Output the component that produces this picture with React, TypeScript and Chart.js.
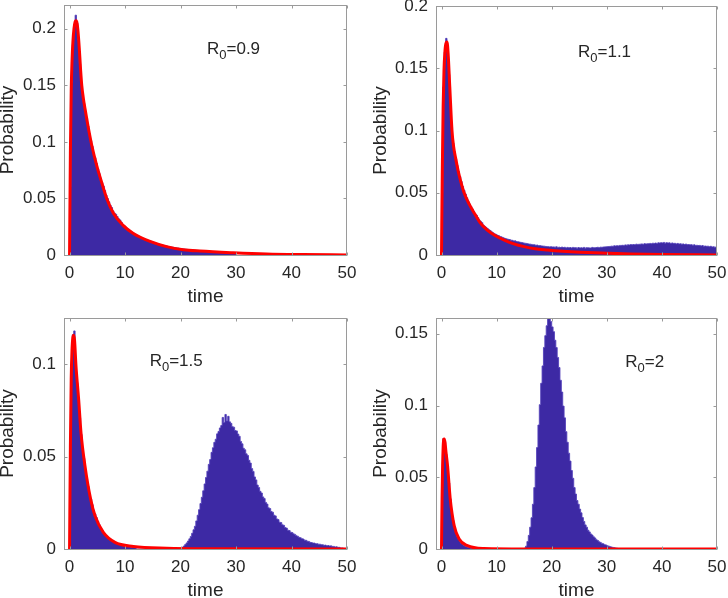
import React, { useEffect, useRef } from "react";
import { Chart, registerables } from "chart.js";

Chart.register(...registerables);

// ---------------- data ----------------
const TIME_TICKS = [0, 10, 20, 30, 40, 50];
const BIN_WIDTH = 0.25;

const R0_VALUES = ["0.9", "1.1", "1.5", "2"];

// y ticks per panel
const TL_Y_TICKS = [0, 0.05, 0.1, 0.15, 0.2];
const TL_Y_LABELS = ["0", "0.05", "0.1", "0.15", "0.2"];
const TR_Y_TICKS = [0, 0.05, 0.1, 0.15, 0.2];
const TR_Y_LABELS = ["0", "0.05", "0.1", "0.15", "0.2"];
const BL_Y_TICKS = [0, 0.05, 0.1];
const BL_Y_LABELS = ["0", "0.05", "0.1"];
const BR_Y_TICKS = [0, 0.05, 0.1, 0.15];
const BR_Y_LABELS = ["0", "0.05", "0.1", "0.15"];

// R0 = 0.9 : histogram (bins of 0.25 starting at t = 0)
const TL_HIST_START = 0;
const TL_HIST = [
  0.060, 0.152, 0.186, 0.202, 0.212, 0.205, 0.190, 0.169,
  0.153, 0.143, 0.134, 0.127, 0.121, 0.114, 0.107, 0.101,
  0.096, 0.090, 0.086, 0.081, 0.076, 0.072, 0.068, 0.064,
  0.061, 0.057, 0.053, 0.050, 0.047, 0.044, 0.042, 0.039,
  0.037, 0.036, 0.034, 0.032, 0.031, 0.029, 0.027, 0.026,
  0.0248, 0.0236, 0.0228, 0.0216, 0.0207, 0.0199, 0.0192, 0.0183,
  0.0176, 0.0170, 0.0162, 0.0156, 0.0151, 0.0146, 0.0139, 0.0134,
  0.0130, 0.0125, 0.0122, 0.0116, 0.0113, 0.0108, 0.0104, 0.0100,
  0.0097, 0.0093, 0.0091, 0.0086, 0.0084, 0.0081, 0.0078, 0.0075,
  0.0073, 0.0070, 0.0069, 0.0066, 0.0064, 0.0062, 0.0061, 0.0058,
  0.0057, 0.0054, 0.0053, 0.0051, 0.0050, 0.0048, 0.0047, 0.0045,
  0.0045, 0.0043, 0.0042, 0.0041, 0.0040, 0.0038, 0.0037, 0.0036,
  0.0035, 0.0034, 0.0034, 0.0033, 0.0032, 0.0031, 0.0030, 0.0029,
  0.0028, 0.0028, 0.0027, 0.0026, 0.0025, 0.0025, 0.0024, 0.0023,
  0.0022, 0.0022, 0.0021, 0.0020, 0.0020, 0.0019, 0.0018, 0.0018,
];
// R0 = 0.9 : fitted curve
const TL_CURVE_T = [0, 0.15, 0.3, 0.45, 0.6, 0.8, 1.0, 1.15, 1.3, 1.5, 1.75, 2.0, 2.2, 2.5, 2.8, 3.4, 4.0, 4.9, 5.8, 6.7, 7.9, 9.7, 11.5, 14.5, 17.5, 20.5, 23.5, 29.5, 35.5, 42, 50];
const TL_CURVE_P = [0, 0.09, 0.145, 0.172, 0.188, 0.2, 0.206, 0.207, 0.206, 0.199, 0.183, 0.163, 0.15, 0.138, 0.129, 0.112, 0.097, 0.079, 0.064, 0.05, 0.037, 0.026, 0.019, 0.012, 0.0074, 0.0047, 0.0035, 0.002, 0.0009, 0.0004, 0.0001];

// R0 = 1.1 : histogram
const TR_HIST_START = 0;
const TR_HIST = [
  0.050, 0.135, 0.163, 0.174, 0.166, 0.145, 0.122, 0.103,
  0.090, 0.083, 0.077, 0.072, 0.067, 0.063, 0.059, 0.055,
  0.052, 0.049, 0.046, 0.043, 0.041, 0.039, 0.037, 0.035,
  0.033, 0.032, 0.030, 0.028, 0.027, 0.026, 0.024, 0.023,
  0.0222, 0.0212, 0.0203, 0.0196, 0.0186, 0.0179, 0.0171, 0.0166,
  0.0160, 0.0156, 0.0149, 0.0146, 0.0141, 0.0136, 0.0133, 0.0129,
  0.0126, 0.0124, 0.0119, 0.0118, 0.0113, 0.0114, 0.0108, 0.0107,
  0.0104, 0.0102, 0.0100, 0.0097, 0.0095, 0.0093, 0.0091, 0.0088,
  0.0087, 0.0085, 0.0083, 0.0082, 0.0078, 0.0080, 0.0075, 0.0076,
  0.0073, 0.0072, 0.0071, 0.0069, 0.0068, 0.0067, 0.0065, 0.0067,
  0.0064, 0.0065, 0.0063, 0.0066, 0.0061, 0.0063, 0.0060, 0.0064,
  0.0060, 0.0062, 0.0057, 0.0061, 0.0059, 0.0060, 0.0056, 0.0061,
  0.0058, 0.0059, 0.0055, 0.0060, 0.0057, 0.0058, 0.0056, 0.0061,
  0.0055, 0.0059, 0.0058, 0.0057, 0.0056, 0.0061, 0.0058, 0.0059,
  0.0060, 0.0062, 0.0059, 0.0063, 0.0062, 0.0064, 0.0065, 0.0066,
  0.0067, 0.0068, 0.0069, 0.0071, 0.0070, 0.0074, 0.0072, 0.0075,
  0.0073, 0.0077, 0.0077, 0.0078, 0.0077, 0.0081, 0.0079, 0.0082,
  0.0080, 0.0084, 0.0082, 0.0084, 0.0083, 0.0087, 0.0085, 0.0086,
  0.0087, 0.0089, 0.0086, 0.0091, 0.0089, 0.0090, 0.0091, 0.0093,
  0.0090, 0.0095, 0.0093, 0.0096, 0.0093, 0.0098, 0.0096, 0.0099,
  0.0097, 0.0101, 0.0095, 0.0099, 0.0096, 0.0098, 0.0092, 0.0097,
  0.0093, 0.0094, 0.0089, 0.0093, 0.0088, 0.0090, 0.0087, 0.0089,
  0.0084, 0.0088, 0.0083, 0.0084, 0.0082, 0.0083, 0.0078, 0.0082,
  0.0077, 0.0078, 0.0076, 0.0077, 0.0072, 0.0076, 0.0071, 0.0072,
  0.0070, 0.0071, 0.0066, 0.0070, 0.0065, 0.0066, 0.0063, 0.0064,
];
const TR_CURVE_T = [0, 0.15, 0.3, 0.45, 0.6, 0.8, 1.0, 1.2, 1.5, 1.9, 2.2, 2.6, 3.0, 3.5, 4.1, 5.0, 5.9, 7.0, 8.3, 9.8, 11.4, 13, 15, 17, 19.2, 22, 25.2, 30, 34.3, 40, 50];
const TR_CURVE_P = [0, 0.07, 0.12, 0.148, 0.162, 0.17, 0.171, 0.162, 0.135, 0.1, 0.087, 0.077, 0.068, 0.059, 0.05, 0.041, 0.034, 0.026, 0.02, 0.0155, 0.012, 0.0092, 0.0067, 0.005, 0.004, 0.003, 0.0022, 0.0014, 0.0008, 0.0004, 0.0001];

// R0 = 1.5 : histogram, early hump and late hump
const BL_HIST_A_START = 0;
const BL_HIST_A = [
  0.045, 0.100, 0.116, 0.118, 0.102, 0.090, 0.081, 0.071,
  0.062, 0.055, 0.049, 0.043, 0.038, 0.034, 0.030, 0.027,
  0.024, 0.021, 0.019, 0.017, 0.015, 0.0132, 0.0116, 0.0102,
  0.0090, 0.0080, 0.0071, 0.0063, 0.0056, 0.0050, 0.0044, 0.0039,
  0.0035, 0.0031, 0.0028, 0.0025, 0.0022, 0.0020, 0.0018, 0.0016,
  0.0015, 0.0013, 0.0012, 0.0011, 0.0010, 0.0009, 0.0008, 0.0007,
];
const BL_HIST_B_START = 20;
const BL_HIST_B = [
  0.0003, 0.0009, 0.0016, 0.0024, 0.0033, 0.0043, 0.0055, 0.0068,
  0.0085, 0.0104, 0.0123, 0.0152, 0.0183, 0.0213, 0.0246, 0.0280,
  0.0315, 0.0352, 0.0387, 0.0421, 0.0458, 0.0484, 0.0523, 0.0548,
  0.0577, 0.0594, 0.0623, 0.0636, 0.0655, 0.0668, 0.0712, 0.0684,
  0.0728, 0.0692, 0.0718, 0.0688, 0.0680, 0.0662, 0.0659, 0.0641,
  0.0639, 0.0622, 0.0610, 0.0582, 0.0569, 0.0545, 0.0537, 0.0515,
  0.0506, 0.0480, 0.0465, 0.0435, 0.0420, 0.0390, 0.0374, 0.0346,
  0.0333, 0.0312, 0.0303, 0.0282, 0.0273, 0.0252, 0.0243, 0.0223,
  0.0219, 0.0203, 0.0199, 0.0183, 0.0179, 0.0163, 0.0159, 0.0145,
  0.0143, 0.0131, 0.0128, 0.0116, 0.0113, 0.0102, 0.0100, 0.0091,
  0.0089, 0.0082, 0.0079, 0.0072, 0.0069, 0.0063, 0.0061, 0.0056,
  0.0054, 0.0048, 0.0047, 0.0042, 0.0041, 0.0036, 0.0035, 0.0032,
  0.0032, 0.0029, 0.0029, 0.0026, 0.0026, 0.0023, 0.0023, 0.0020,
  0.0021, 0.0018, 0.0019, 0.0016, 0.0017, 0.0014, 0.0014, 0.0011,
  0.0012, 0.0009, 0.0009, 0.0006, 0.0006, 0.0004, 0.0003, 0.0001,
];
const BL_CURVE_T = [0, 0.15, 0.3, 0.45, 0.6, 0.75, 0.9, 1.16, 1.64, 2.06, 2.78, 3.8, 4.59, 6.09, 8.19, 11.5, 17.5, 25, 50];
const BL_CURVE_P = [0, 0.055, 0.092, 0.108, 0.1145, 0.1157, 0.113, 0.099, 0.081, 0.063, 0.045, 0.027, 0.018, 0.009, 0.0036, 0.0014, 0.0004, 0.0001, 0];

// R0 = 2 : histogram, early hump and late hump
const BR_HIST_A_START = 0;
const BR_HIST_A = [
  0.050, 0.077, 0.075, 0.066, 0.057, 0.046, 0.035, 0.027,
  0.020, 0.015, 0.0115, 0.0088, 0.0068, 0.0052, 0.0040, 0.0031,
  0.0024, 0.0018, 0.0014, 0.0010, 0.0008, 0.0006, 0.0004, 0.0003,
];
const BR_HIST_B_START = 15;
const BR_HIST_B = [
  0.0006, 0.0020, 0.0052, 0.0095, 0.0152, 0.0218, 0.0312, 0.0428,
  0.0572, 0.0707, 0.0864, 0.1006, 0.1155, 0.1276, 0.1405, 0.1487,
  0.1556, 0.1625, 0.1660, 0.1585, 0.1548, 0.1515, 0.1455, 0.1404,
  0.1335, 0.1265, 0.1176, 0.1094, 0.0996, 0.0914, 0.0818, 0.0744,
  0.0668, 0.0613, 0.0547, 0.0493, 0.0428, 0.0383, 0.0338, 0.0312,
  0.0278, 0.0252, 0.0219, 0.0192, 0.0168, 0.0152, 0.0131, 0.0119,
  0.0105, 0.0097, 0.0085, 0.0077, 0.0065, 0.0059, 0.0050, 0.0046,
  0.0039, 0.0036, 0.0030, 0.0028, 0.0022, 0.0020, 0.0016, 0.0014,
  0.0011, 0.0009, 0.0007, 0.0005, 0.0003, 0.0002, 0.0001, 0.0001,
];
const BR_CURVE_T = [0, 0.1, 0.2, 0.3, 0.4, 0.5, 0.65, 0.8, 1.1, 1.58, 2.3, 3.2, 4.7, 7.7, 15, 50];
const BR_CURVE_P = [0, 0.035, 0.058, 0.071, 0.0765, 0.0767, 0.074, 0.068, 0.058, 0.035, 0.0163, 0.007, 0.0023, 0.0003, 0, 0];

// ---------------- styles ----------------
const FONT = '"Liberation Sans", Arial, Helvetica, sans-serif';
const TEXT_COLOR = "#262626";
const BOX_COLOR = "#9a9a9a";
const HIST_FILL = "rgb(61,41,164)";
const HIST_EDGE = "rgba(82,64,186,0.85)";
const CURVE_COLOR = "#ff0000";

Chart.defaults.font.family = FONT;

type Seg = { start: number; values: number[] };

function histPoints(segs: Seg[]) {
  const pts: { x: number; y: number }[] = [];
  segs.forEach((s) => {
    s.values.forEach((v, i) => pts.push({ x: s.start + i * BIN_WIDTH, y: v }));
    pts.push({ x: s.start + s.values.length * BIN_WIDTH, y: 0 });
  });
  return pts;
}

const framePlugin = {
  id: "frame",
  afterDraw(chart: any, _args: any, opts: any) {
    const { ctx, chartArea: a } = chart;
    const xs = chart.scales.x;
    const ys = chart.scales.y;
    ctx.save();
    // R0 annotation
    const lx = xs.getPixelForValue(opts.at[0]);
    const ly = ys.getPixelForValue(opts.at[1]);
    ctx.fillStyle = TEXT_COLOR;
    ctx.textAlign = "left";
    ctx.textBaseline = "alphabetic";
    ctx.font = `17px ${FONT}`;
    ctx.fillText("R", lx, ly);
    let w = ctx.measureText("R").width;
    ctx.font = `13px ${FONT}`;
    ctx.fillText("0", lx + w, ly + 5);
    w += ctx.measureText("0").width;
    ctx.font = `17px ${FONT}`;
    ctx.fillText("=" + opts.r0, lx + w, ly);

    // box
    const L = Math.round(a.left) + 0.5;
    const R = Math.round(a.right) - 0.5;
    const T = Math.round(a.top) + 0.5;
    const B = Math.round(a.bottom) + 0.5;
    ctx.strokeStyle = BOX_COLOR;
    ctx.lineWidth = 1;
    ctx.strokeRect(L, T, R - L, B - T);
    const tl = 3;
    ctx.beginPath();
    xs.ticks.forEach((t: any) => {
      const px = Math.round(xs.getPixelForValue(t.value)) + 0.5;
      ctx.moveTo(px, B);
      ctx.lineTo(px, B - tl);
      ctx.moveTo(px, T);
      ctx.lineTo(px, T + tl);
    });
    ys.ticks.forEach((t: any) => {
      const py = Math.round(ys.getPixelForValue(t.value)) + 0.5;
      ctx.moveTo(L, py);
      ctx.lineTo(L + tl, py);
      ctx.moveTo(R, py);
      ctx.lineTo(R - tl, py);
    });
    ctx.stroke();
    ctx.restore();
  },
};

type PanelCfg = {
  box: { left: number; top: number; width: number; height: number };
  area: { left: number; right: number; top: number; bottom: number };
  yTitleCenter: number;
  yMax: number;
  yTicks: number[];
  yLabels: string[];
  hist: Seg[];
  curveT: number[];
  curveP: number[];
  r0: string;
  r0At: [number, number];
};

const PANELS: PanelCfg[] = [
  {
    box: { left: 0, top: 0, width: 364, height: 312 },
    area: { left: 64, right: 347, top: 5, bottom: 255 },
    yTitleCenter: 7.5,
    yMax: 0.221,
    yTicks: TL_Y_TICKS,
    yLabels: TL_Y_LABELS,
    hist: [{ start: TL_HIST_START, values: TL_HIST }],
    curveT: TL_CURVE_T,
    curveP: TL_CURVE_P,
    r0: R0_VALUES[0],
    r0At: [24.77, 0.178],
  },
  {
    box: { left: 364, top: 0, width: 364, height: 312 },
    area: { left: 436, right: 717, top: 6, bottom: 255 },
    yTitleCenter: 16.5,
    yMax: 0.2,
    yTicks: TR_Y_TICKS,
    yLabels: TR_Y_LABELS,
    hist: [{ start: TR_HIST_START, values: TR_HIST }],
    curveT: TR_CURVE_T,
    curveP: TR_CURVE_P,
    r0: R0_VALUES[1],
    r0At: [24.77, 0.1588],
  },
  {
    box: { left: 0, top: 290, width: 364, height: 322 },
    area: { left: 64, right: 347, top: 318, bottom: 549 },
    yTitleCenter: 7.5,
    yMax: 0.125,
    yTicks: BL_Y_TICKS,
    yLabels: BL_Y_LABELS,
    hist: [
      { start: BL_HIST_A_START, values: BL_HIST_A },
      { start: BL_HIST_B_START, values: BL_HIST_B },
    ],
    curveT: BL_CURVE_T,
    curveP: BL_CURVE_P,
    r0: R0_VALUES[2],
    r0At: [14.44, 0.0992],
  },
  {
    box: { left: 364, top: 290, width: 364, height: 322 },
    area: { left: 436, right: 717, top: 318, bottom: 549 },
    yTitleCenter: 16.5,
    yMax: 0.161,
    yTicks: BR_Y_TICKS,
    yLabels: BR_Y_LABELS,
    hist: [
      { start: BR_HIST_A_START, values: BR_HIST_A },
      { start: BR_HIST_B_START, values: BR_HIST_B },
    ],
    curveT: BR_CURVE_T,
    curveP: BR_CURVE_P,
    r0: R0_VALUES[3],
    r0At: [33.36, 0.1266],
  },
];

function Panel({ cfg }: { cfg: PanelCfg }) {
  const ref = useRef<HTMLCanvasElement>(null);
  useEffect(() => {
    const { box, area } = cfg;
    const yAxisW = area.left - box.left;
    const padRight = box.left + box.width - area.right;
    const padTop = area.top - box.top;
    const xAxisH = box.top + box.height - area.bottom;
    const yTitlePad = cfg.yTitleCenter - 9.5;
    const xTitlePad = xAxisH - 42 - 9.5;

    const chart = new Chart(ref.current as HTMLCanvasElement, {
      type: "line",
      data: {
        datasets: [
          {
            data: cfg.curveT.map((t, i) => ({ x: t, y: cfg.curveP[i] })),
            borderColor: CURVE_COLOR,
            borderWidth: 3,
            pointRadius: 0,
            fill: false,
            cubicInterpolationMode: "monotone",
            order: 0,
          },
          {
            data: histPoints(cfg.hist),
            stepped: true,
            borderColor: HIST_EDGE,
            backgroundColor: HIST_FILL,
            borderWidth: 1,
            pointRadius: 0,
            fill: "origin",
            order: 1,
          },
        ],
      } as any,
      options: {
        animation: false,
        responsive: false,
        devicePixelRatio: 1,
        events: [],
        layout: { padding: { left: 0, right: padRight, top: padTop, bottom: 0 } },
        plugins: {
          legend: { display: false },
          tooltip: { enabled: false },
          frame: { r0: cfg.r0, at: cfg.r0At },
        } as any,
        scales: {
          x: {
            type: "linear",
            min: -1,
            max: 50,
            afterBuildTicks: (s: any) => {
              s.ticks = TIME_TICKS.map((v) => ({ value: v }));
            },
            afterFit: (s: any) => {
              s.height = xAxisH;
              s.paddingLeft = 0;
              s.paddingRight = 0;
            },
            grid: { display: false, drawTicks: false },
            border: { display: false },
            ticks: {
              color: TEXT_COLOR,
              font: { size: 17, lineHeight: 1 },
              padding: 9.5,
              maxRotation: 0,
              autoSkip: false,
              callback: (v: any) => String(v),
            },
            title: {
              display: true,
              text: "time",
              color: TEXT_COLOR,
              font: { size: 19, lineHeight: 1 },
              padding: { top: 0, bottom: xTitlePad },
            },
          },
          y: {
            type: "linear",
            min: 0,
            max: cfg.yMax,
            afterBuildTicks: (s: any) => {
              s.ticks = cfg.yTicks.map((v) => ({ value: v }));
            },
            afterFit: (s: any) => {
              s.width = yAxisW;
              s.paddingTop = 0;
              s.paddingBottom = 0;
            },
            grid: { display: false, drawTicks: false },
            border: { display: false },
            ticks: {
              color: TEXT_COLOR,
              font: { size: 17, lineHeight: 1 },
              padding: 8,
              autoSkip: false,
              callback: (v: any) => {
                const i = cfg.yTicks.indexOf(v);
                return i >= 0 ? cfg.yLabels[i] : "";
              },
            },
            title: {
              display: true,
              text: "Probability",
              color: TEXT_COLOR,
              font: { size: 19, lineHeight: 1 },
              padding: { top: yTitlePad, bottom: 0 },
            },
          },
        },
      } as any,
      plugins: [framePlugin as any],
    });
    return () => chart.destroy();
  }, [cfg]);

  return (
    <canvas
      ref={ref}
      width={cfg.box.width}
      height={cfg.box.height}
      style={{
        position: "absolute",
        left: cfg.box.left,
        top: cfg.box.top,
        width: cfg.box.width,
        height: cfg.box.height,
      }}
    />
  );
}

export default function App() {
  return (
    <div
      style={{
        position: "absolute",
        left: 0,
        top: 0,
        width: 728,
        height: 598,
        overflow: "hidden",
        background: "#ffffff",
      }}
    >
      {PANELS.map((p, i) => (
        <Panel key={i} cfg={p} />
      ))}
    </div>
  );
}
